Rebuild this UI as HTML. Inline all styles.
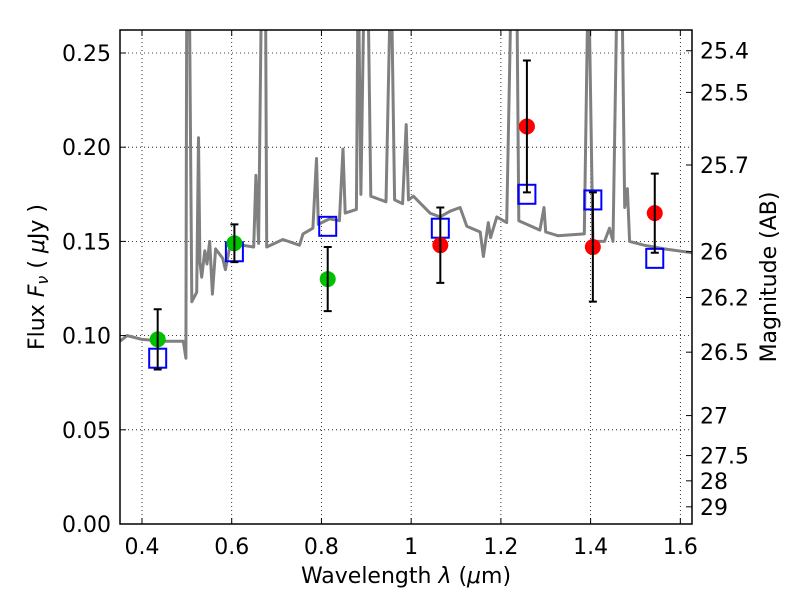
<!DOCTYPE html>
<html><head><meta charset="utf-8"><style>
body{margin:0;background:#fff}
svg text{font-family:"DejaVu Sans","Liberation Sans",sans-serif;fill:#000}
</style></head><body>
<svg id="chart" width="800" height="600" viewBox="0 0 800 600" xmlns="http://www.w3.org/2000/svg">
<rect width="800" height="600" fill="#fff"/>
<defs><clipPath id="pc"><rect x="120" y="30" width="572" height="494"/></clipPath></defs>
<g id="grid"></g>
<g id="spec" clip-path="url(#pc)"></g>
<g id="marks"></g>
<rect x="120" y="30" width="572" height="494" fill="none" stroke="#000" stroke-width="1.5"/>
<g id="axes"></g>
<text x="406" y="583" font-size="22" text-anchor="middle">Wavelength  <tspan font-style="italic">λ</tspan> (<tspan font-style="italic">μ</tspan>m)</text>
<text transform="translate(44,277) rotate(-90)" font-size="22" text-anchor="middle">Flux  <tspan font-style="italic">F<tspan font-size="16" dy="4">ν</tspan></tspan><tspan dy="-4">  ( </tspan><tspan font-style="italic">μ</tspan>Jy )</text>
<text transform="translate(776,277) rotate(-90)" font-size="22" text-anchor="middle">Magnitude (AB)</text>
</svg>
<script>
const xTicks=[0.4,0.6,0.8,1.0,1.2,1.4,1.6];
const xTickLabels=["0.4","0.6","0.8","1","1.2","1.4","1.6"];
const yTicks=[0,0.05,0.10,0.15,0.20,0.25];
const yTickLabels=["0.00","0.05","0.10","0.15","0.20","0.25"];
const magTicks=[25.4,25.5,25.7,26,26.2,26.5,27,27.5,28,29];
const magTickLabels=["25.4","25.5","25.7","26","26.2","26.5","27","27.5","28","29"];
const photWave=[0.435,0.606,0.814,1.065,1.258,1.405,1.543];
const photFlux=[0.098,0.149,0.130,0.148,0.211,0.147,0.165];
const photErr=[0.016,0.010,0.017,0.020,0.035,0.029,0.021];
const photColor=["#00c000","#00c000","#00c000","#ff0000","#ff0000","#ff0000","#ff0000"];
const modelFlux=[0.088,0.1445,0.158,0.157,0.175,0.172,0.141];
const specWave=[0.351,0.367,0.40,0.45,0.492,0.498,0.500,0.505,0.511,0.522,0.526,0.529,0.533,0.540,0.545,0.551,0.557,0.564,0.580,0.586,0.597,0.649,0.654,0.660,0.667,0.675,0.678,0.714,0.751,0.759,0.781,0.789,0.793,0.818,0.840,0.848,0.853,0.878,0.882,0.888,0.896,0.903,0.910,0.944,0.955,0.963,0.981,0.989,0.994,1.005,1.042,1.064,1.087,1.109,1.124,1.154,1.161,1.172,1.177,1.191,1.213,1.224,1.235,1.240,1.287,1.296,1.300,1.327,1.386,1.395,1.405,1.431,1.442,1.450,1.460,1.469,1.476,1.482,1.487,1.519,1.564,1.625];
const specFlux=[0.097,0.100,0.098,0.097,0.097,0.088,0.30,0.30,0.118,0.123,0.205,0.139,0.131,0.145,0.138,0.150,0.122,0.146,0.141,0.135,0.149,0.147,0.185,0.149,0.30,0.30,0.147,0.151,0.148,0.154,0.157,0.194,0.159,0.162,0.161,0.199,0.165,0.167,0.30,0.175,0.30,0.30,0.174,0.171,0.30,0.172,0.170,0.212,0.172,0.174,0.165,0.163,0.166,0.168,0.158,0.155,0.142,0.160,0.152,0.163,0.160,0.30,0.30,0.161,0.156,0.168,0.155,0.153,0.154,0.30,0.150,0.150,0.157,0.150,0.30,0.30,0.168,0.178,0.150,0.148,0.146,0.144];

const L=120,R=692,T=30,B=524,X0=0.351,X1=1.626,Y0=0,Y1=0.2622;
const sx=v=>L+(v-X0)/(X1-X0)*(R-L);
const sy=v=>B-(v-Y0)/(Y1-Y0)*(B-T);
const magToFlux=m=>Math.pow(10,(23.9-m)/2.5);
const NS="http://www.w3.org/2000/svg";
function mk(tag,parent,attrs){const e=document.createElementNS(NS,tag);for(const k in attrs)e.setAttribute(k,attrs[k]);parent.appendChild(e);return e;}
const grid=document.getElementById('grid'),axes=document.getElementById('axes'),spec=document.getElementById('spec'),marks=document.getElementById('marks');

xTicks.forEach((t,i)=>{
  const x=sx(t);
  const g=mk('line',grid,{x1:x,x2:x,y1:T,y2:B,stroke:'#000','stroke-width':0.8,'stroke-dasharray':'1,3'});
  
  
  const tk=mk('path',axes,{d:`M${x},${B}v-6M${x},${T}v6`,stroke:'#000','stroke-width':1});
  
  
  const lb=mk('text',axes,{x:x,y:B+30,'font-size':22,'text-anchor':'middle'});
  lb.textContent=xTickLabels[i];
  
  
});
yTicks.forEach((t,i)=>{
  const y=sy(t);
  const g=mk('line',grid,{x1:L,x2:R,y1:y,y2:y,stroke:'#000','stroke-width':0.8,'stroke-dasharray':'1,3'});
  
  
  const tk=mk('path',axes,{d:`M${L},${y}h6`,stroke:'#000','stroke-width':1});
  
  
  const lb=mk('text',axes,{x:L-9,y:y+8,'font-size':22,'text-anchor':'end'});
  lb.textContent=yTickLabels[i];
  
  
});
magTicks.forEach((m,i)=>{
  const y=sy(magToFlux(m));
  const tk=mk('path',axes,{d:`M${R},${y}h-6`,stroke:'#000','stroke-width':1});
  
  
  const lb=mk('text',axes,{x:R+8,y:y+8,'font-size':22,'text-anchor':'start'});
  lb.textContent=magTickLabels[i];
  
  
});

const pts=specWave.map((w,i)=>sx(w).toFixed(1)+','+sy(specFlux[i]).toFixed(1)).join(' ');
const pl=mk('polyline',spec,{points:pts,fill:'none',stroke:'#808080','stroke-width':3,'stroke-linejoin':'round'});



modelFlux.forEach((f,i)=>{
  const x=sx(photWave[i]),y=sy(f);
  const s=mk('rect',marks,{x:x-8.5,y:y-9.5,width:17,height:19,fill:'none',stroke:'#0000ff','stroke-width':2});
  
  
});
photWave.forEach((w,i)=>{
  const x=sx(w),y=sy(photFlux[i]);
  const c=mk('circle',marks,{cx:x,cy:y,r:8,fill:photColor[i]});
  
  
  const y1=sy(photFlux[i]+photErr[i]),y2=sy(photFlux[i]-photErr[i]);
  const e=mk('path',marks,{d:`M${x},${y1}V${y2}M${x-4},${y1}h8M${x-4},${y2}h8`,stroke:'#000','stroke-width':2});
  
  
});
</script>
</body></html>
